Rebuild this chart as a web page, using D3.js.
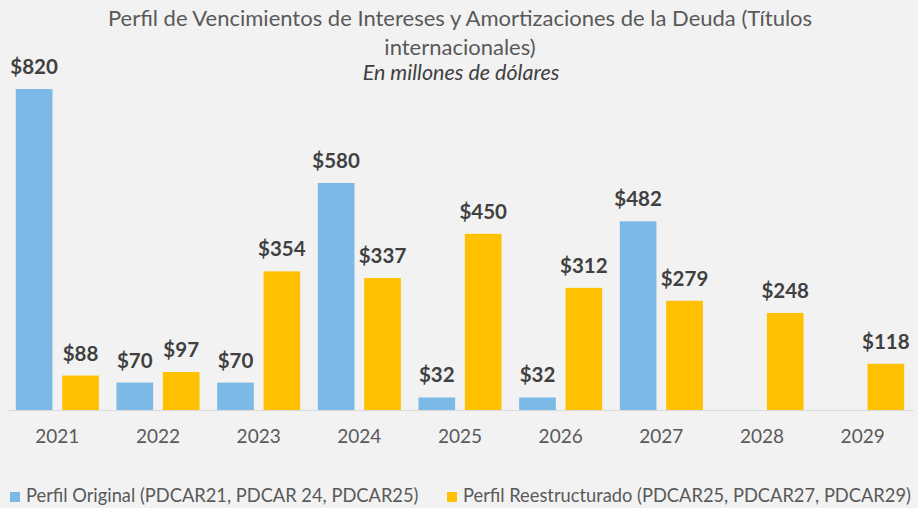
<!DOCTYPE html>
<html>
<head>
    <meta charset="utf-8">
    <script src="https://d3js.org/d3.v7.min.js"></script>
    <style>
        html, body { margin: 0; padding: 0; background: #f2f2f2; }
        text { font-family: Lato, "Open Sans", sans-serif; }
    </style>
</head>
<body>
    <div id="chart"></div>
    <script>
        // data
        const years = ["2021", "2022", "2023", "2024", "2025", "2026", "2027", "2028", "2029"];
        const original = [820, 70, 70, 580, 32, 32, 482, null, null];
        const reestructurado = [88, 97, 354, 337, 450, 312, 279, 248, 118];
        const seriesNames = ["Perfil Original (PDCAR21, PDCAR 24, PDCAR25)", "Perfil Reestructurado (PDCAR25, PDCAR27, PDCAR29)"];
        const seriesColors = ["#7cb9e6", "#ffc000"];

        const W = 918, H = 508;
        const svg = d3.select("#chart").append("svg")
            .attr("width", W).attr("height", H);

        svg.append("rect").attr("width", W).attr("height", H).attr("fill", "#f2f2f2");

        // title
        const title = svg.append("text")
            .attr("text-anchor", "middle")
            .style("font-size", "22px")
            .style("fill", "#595959");
        title.append("tspan").attr("x", 460).attr("y", 26)
            .text("Perfil de Vencimientos de Intereses y Amortizaciones de la Deuda (Títulos");
        title.append("tspan").attr("x", 460).attr("y", 55).text("internacionales)");
        svg.append("text")
            .attr("x", 461).attr("y", 80)
            .attr("text-anchor", "middle")
            .style("font-size", "21.5px")
            .style("font-style", "italic")
            .style("fill", "#404040")
            .text("En millones de dólares");

        const x = d3.scaleBand().domain(years).range([7, 913]);
        const xs = d3.scaleBand().domain([0, 1]).range([0, x.bandwidth()])
            .paddingInner(0.21).paddingOuter(0.19);
        const y = d3.scaleLinear().domain([0, 820]).range([410, 89]);

        const data = years.map((yr, i) => ({ year: yr, vals: [original[i], reestructurado[i]] }));

        const groups = svg.selectAll(".grp").data(data).enter().append("g")
            .attr("transform", d => `translate(${x(d.year)},0)`);

        const bars = groups.selectAll(".bar")
            .data(d => d.vals.map((v, s) => ({ v, s })).filter(e => e.v !== null))
            .enter();

        bars.append("rect")
            .attr("x", d => xs(d.s))
            .attr("y", d => y(d.v))
            .attr("width", xs.bandwidth())
            .attr("height", d => y(0) - y(d.v))
            .attr("fill", d => seriesColors[d.s]);

        bars.append("text")
            .attr("x", d => xs(d.s) + xs.bandwidth() / 2)
            .attr("y", d => y(d.v) - 15)
            .attr("text-anchor", "middle")
            .style("font-size", "20.5px")
            .style("font-weight", "bold")
            .style("fill", "#404040")
            .text(d => "$" + d.v);

        // x axis
        const xAxis = svg.append("g")
            .attr("transform", "translate(0,410)")
            .call(d3.axisBottom(x).tickSize(0).tickPadding(20));
        xAxis.select(".domain").attr("stroke", "#d9d9d9").attr("stroke-width", 1);
        xAxis.selectAll(".tick text")
            .style("font-size", "19px")
            .style("font-family", "Lato, sans-serif")
            .style("fill", "#595959");

        // legend
        const legendX = [10, 447];
        const legend = svg.selectAll(".leg").data(seriesNames).enter().append("g")
            .attr("transform", (d, i) => `translate(${legendX[i]},497)`);
        legend.append("rect")
            .attr("x", 0).attr("y", -5).attr("width", 10).attr("height", 10)
            .attr("fill", (d, i) => seriesColors[i]);
        legend.append("text")
            .attr("x", 16).attr("y", 5)
            .style("font-size", "18.3px")
            .style("fill", "#595959")
            .text(d => d);
    </script>
</body>
</html>
